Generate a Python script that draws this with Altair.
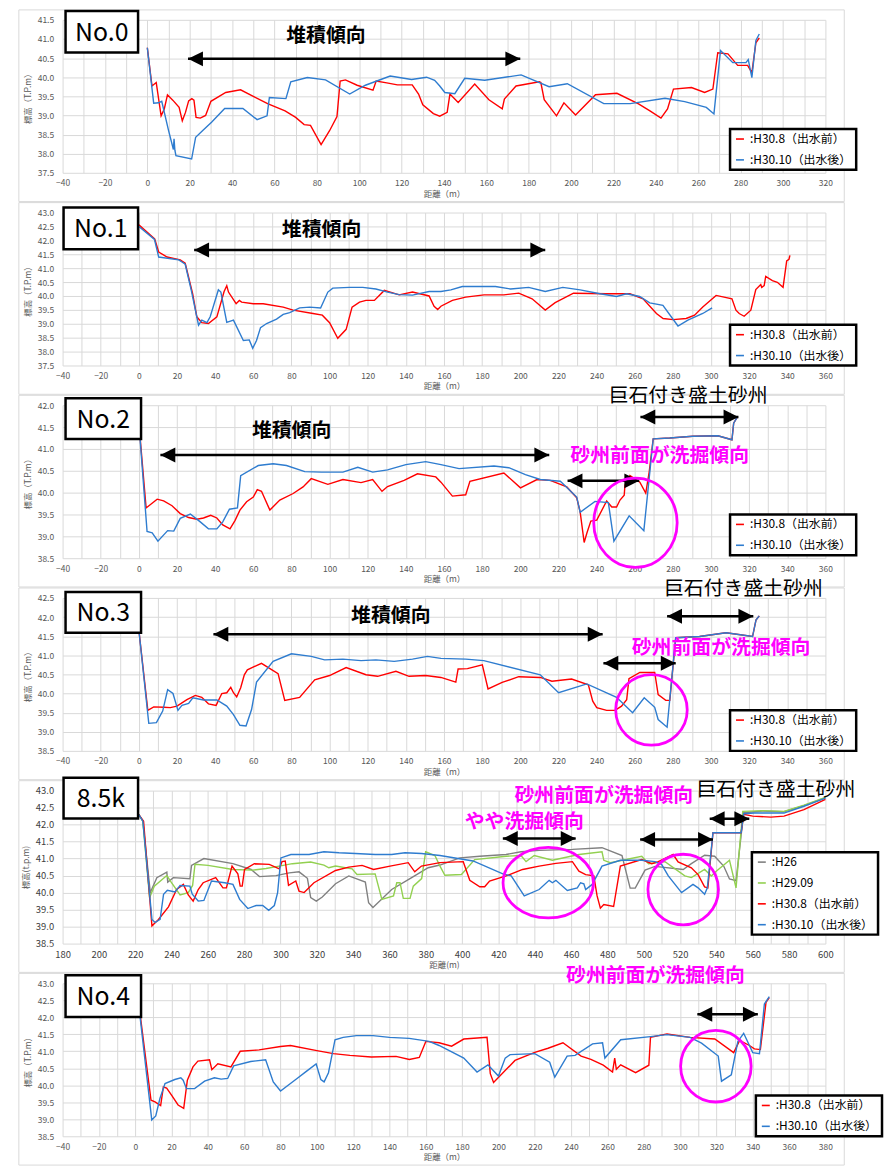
import altair as alt
import pandas as pd

FONT = "Noto Sans CJK JP"
RED = "#FF0000"
BLUE = "#2E7CCF"
GREEN = "#92D050"
GRAY = "#808080"
MAGENTA = "#FF00FF"
BLACK = "#000000"

LBL_H26 = ":H26"
LBL_H2909 = ":H29.09"
LBL_H308 = ":H30.8（出水前）"
LBL_H3010 = ":H30.10（出水後）"

PANEL_NAMES = ["No.0", "No.1", "No.2", "No.3", "8.5k", "No.4"]

# ---------------- No.0 ----------------
P0_H308 = [(0, 40.77), (2.2, 39.77), (4.2, 39.86), (6.5, 38.99), (8, 39.17), (9.5, 39.54), (12, 39.4), (15, 39.21),
           (16.5, 38.86), (18, 39.08), (19.5, 39.38), (21, 39.44), (22, 39.4), (23, 38.95), (25, 38.93), (27.5, 39.0),
           (30, 39.37), (37, 39.6), (44, 39.67), (50, 39.5), (57, 39.3), (65, 39.12), (70, 38.95), (74, 38.76),
           (77, 38.74), (82, 38.24), (86, 38.6), (89.5, 38.97), (91, 39.9), (93.5, 39.93), (99, 39.79), (106.5, 39.66),
           (108, 39.9), (113, 39.85), (118, 39.8), (125, 39.8), (128, 39.56), (130, 39.28), (135, 39.05), (138, 38.98),
           (141.5, 39.08), (142.8, 39.56), (146.7, 39.34), (154.5, 39.82), (161.2, 39.41), (167.5, 39.17),
           (168.5, 39.43), (174, 39.77), (185, 39.88), (185.7, 39.86), (187.3, 39.41), (193.1, 38.99), (196.6, 39.33),
           (202.1, 39.01), (211.5, 39.54), (221.6, 39.58), (231.8, 39.3), (237.2, 39.12), (242.4, 38.93),
           (245.5, 39.17), (248.3, 39.69), (256.8, 39.73), (263, 39.6), (266.9, 39.69), (269.2, 40.64), (274, 40.61),
           (278.6, 40.31), (283.3, 40.31), (285.3, 40.12), (287.2, 40.9), (288.8, 41.03)]
P0_H3010 = [(0, 40.77), (3, 39.32), (5.3, 39.33), (6.8, 39.37), (10, 38.61), (12.3, 38.11), (12.6, 38.39), (13, 38.09),
            (13.5, 37.95), (20.9, 37.86), (22.8, 38.43), (26.4, 38.62), (30.3, 38.82), (36.5, 39.18), (45.1, 39.18),
            (51.8, 38.89), (56.5, 38.99), (57.6, 39.47), (65.4, 39.44), (67.7, 39.88), (75.5, 39.99), (84.1, 39.93),
            (95.5, 39.56), (102.9, 39.79), (114.6, 40.03), (124.7, 39.94), (131.8, 40.0), (135.6, 39.92), (138, 39.77),
            (140.4, 39.6), (145.1, 39.57), (149.8, 39.97), (159.2, 39.92), (176.4, 40.06), (189.6, 39.75),
            (198.2, 39.83), (215.4, 39.31), (227.9, 39.31), (244.3, 39.45), (253.6, 39.36), (263.8, 39.21),
            (267.4, 39.04), (270.5, 40.7), (276.3, 40.38), (282.5, 40.38), (283.6, 40.46), (285.3, 39.99),
            (287.2, 40.96), (288.8, 41.13)]

# ---------------- No.1 ----------------
P1_H308 = [(0, 42.56), (8.3, 42.05), (10.4, 41.58), (14.8, 41.4), (21.7, 41.3), (24.3, 41.18), (28.2, 40.08),
           (30.4, 39.25), (33, 39.04), (36.5, 39.01), (40.9, 39.25), (44.7, 40.16), (46.1, 40.37), (47, 40.14),
           (51, 39.72), (52.7, 39.84), (53.9, 39.78), (60, 39.72), (65.2, 39.72), (75.7, 39.6), (80.9, 39.49),
           (91.3, 39.37), (96.2, 39.31), (100, 39.04), (104.3, 38.48), (108.7, 38.8), (111.8, 39.6), (115.7, 39.78),
           (119.1, 39.84), (123.5, 39.84), (128.7, 40.2), (136.5, 40.04), (143.5, 40.14), (152.2, 40.0),
           (154.8, 39.63), (156.7, 39.51), (158.4, 39.63), (164.4, 39.84), (171.4, 39.96), (181, 40.04),
           (191.4, 40.04), (199.2, 40.1), (206.2, 39.9), (213.1, 39.49), (218.3, 39.76), (227.9, 40.1),
           (245.3, 40.08), (257.5, 40.08), (264.4, 39.9), (271.4, 39.37), (274.9, 39.19), (280.1, 39.15),
           (287, 39.19), (291.4, 39.31), (295.7, 39.6), (302.7, 40.02), (311, 39.9), (313.1, 39.49), (314.8, 39.37),
           (317.4, 39.27), (320.9, 39.49), (323.5, 40.23), (326.1, 40.41), (326.6, 40.31), (327.9, 40.37),
           (328.7, 40.7), (332.2, 40.55), (334.8, 40.49), (337.8, 40.31), (339.7, 41.26), (340.9, 41.32),
           (341.4, 41.46)]
P1_H3010 = [(0, 42.5), (8.2, 42.03), (10.4, 41.4), (20.9, 41.3), (22.6, 41.22), (24.3, 41.14), (27.5, 40.2),
            (31.3, 38.95), (33, 39.13), (35.7, 39.04), (37.4, 39.25), (41.7, 40.22), (43, 40.14), (46.1, 39.05),
            (49.6, 39.13), (54.8, 38.4), (57.9, 38.42), (59.7, 38.12), (61.7, 38.4), (63.8, 38.86), (67, 39.01),
            (72.2, 39.17), (75.7, 39.34), (79.1, 39.4), (84.3, 39.57), (89.6, 39.6), (95.3, 39.57), (99.1, 40.14),
            (101.7, 40.28), (110.4, 40.31), (117.4, 40.31), (124.3, 40.25), (130.4, 40.14), (136.5, 40.05),
            (143.5, 40.03), (152.2, 40.16), (158.4, 40.16), (163.6, 40.22), (169.6, 40.34), (187, 40.34),
            (194.9, 40.25), (204.4, 40.31), (213.1, 40.16), (222.3, 40.31), (231.4, 40.22), (241.8, 40.08),
            (250.5, 39.98), (255.7, 40.08), (262.6, 39.98), (267.9, 39.75), (274.8, 39.66), (282.7, 38.92),
            (287.9, 39.13), (295.7, 39.37), (300.6, 39.57)]

# ---------------- No.2 ----------------
P2_H308 = [(0, 41.6), (3.8, 39.65), (9.6, 39.85), (13, 39.81), (17.4, 39.7), (21.7, 39.52), (26.1, 39.43),
           (30.4, 39.39), (33.9, 39.42), (37.7, 39.48), (40.9, 39.42), (44, 39.26), (47.8, 39.17), (50.4, 39.36),
           (53, 39.6), (56.5, 39.79), (60, 39.9), (62.1, 40.07), (64.3, 40.03), (68.7, 39.6), (73.9, 39.83),
           (80.9, 39.98), (86.1, 40.13), (90.4, 40.32), (99.1, 40.19), (107, 40.3), (116.5, 40.23), (122.6, 40.3),
           (127.5, 40.03), (130.4, 40.14), (139.1, 40.28), (146.1, 40.43), (155.7, 40.36), (158.4, 40.24),
           (164.4, 39.92), (171.4, 39.95), (173.6, 40.26), (191.4, 40.45), (200.1, 40.11), (208.8, 40.3),
           (215.7, 40.28), (224.4, 40.13), (229.6, 39.88), (231.4, 39.56), (233.5, 38.86), (234.9, 39.07),
           (237, 39.35), (240.1, 39.37), (245.3, 39.81), (248, 39.67), (250.5, 39.67), (252.3, 39.83),
           (254.5, 39.94), (254.9, 40.17), (257.5, 40.39), (262.7, 40.24), (265.8, 39.99), (267.6, 40.47),
           (269.7, 41.23), (278.4, 41.25), (290.5, 41.29), (303.6, 41.3), (311, 41.21), (311.9, 41.59),
           (313.7, 41.72)]
P2_H3010 = [(0, 41.6), (4.3, 39.11), (7, 39.08), (10, 38.89), (15.1, 39.13), (18.3, 39.12), (21.7, 39.41),
            (27, 39.51), (32.2, 39.33), (36.5, 39.17), (40.9, 39.17), (44, 39.33), (47.5, 39.62), (51.7, 39.65),
            (53.4, 40.39), (62.6, 40.62), (70.4, 40.66), (77.4, 40.62), (87, 40.48), (95.7, 40.47), (107, 40.47),
            (114.8, 40.58), (122.6, 40.47), (130.4, 40.52), (140, 40.64), (150.4, 40.71), (158.4, 40.64),
            (167.9, 40.55), (186.2, 40.61), (194, 40.57), (202.7, 40.41), (210.5, 40.3), (221, 40.26),
            (229.6, 39.9), (231.4, 39.55), (239.2, 39.8), (246.2, 39.77), (249.1, 38.89), (257.1, 39.47),
            (264.8, 39.13), (269.7, 41.23), (278.4, 41.25), (290.5, 41.29), (303.6, 41.3), (311, 41.21),
            (311.9, 41.59), (313.7, 41.72)]

# ---------------- No.3 ----------------
P3_H308 = [(0, 41.66), (4.7, 39.56), (7.8, 39.65), (13, 39.64), (16.5, 39.63), (20, 39.67), (25.2, 39.84),
           (29.6, 39.95), (33, 39.9), (36.5, 39.73), (40.5, 39.69), (43.5, 40.0), (46.1, 40.02), (48.2, 40.16),
           (49.6, 40.02), (51.3, 39.91), (53.4, 40.15), (55.3, 40.49), (56.9, 40.62), (64.3, 40.79), (73, 40.52),
           (76.5, 39.82), (84.3, 39.9), (92.2, 40.36), (100, 40.47), (108.7, 40.68), (119.1, 40.49), (125.2, 40.45),
           (134.8, 40.58), (141.7, 40.45), (150.4, 40.47), (158.4, 40.42), (166.2, 40.3), (167.4, 40.64),
           (172.3, 40.65), (180.1, 40.75), (183.1, 40.12), (190.5, 40.29), (199.2, 40.44), (210.5, 40.42),
           (216.6, 40.32), (226.9, 40.38), (235.7, 40.23), (238, 39.8), (240.1, 39.63), (245.3, 39.56),
           (249.7, 39.56), (253.1, 39.67), (255.8, 39.84), (257, 40.39), (262.7, 40.55), (270.5, 40.55),
           (272.3, 39.97), (276.3, 39.82), (278.4, 39.82), (281.5, 41.46), (294, 41.49), (307.9, 41.59),
           (321.8, 41.49), (323.6, 41.92), (325.3, 42.03)]
P3_H3010 = [(0, 41.66), (5.2, 39.22), (9.2, 39.24), (12.5, 39.54), (15.1, 40.1), (17.9, 40.0), (20.5, 39.56),
            (22.6, 39.69), (26.1, 39.74), (28.3, 39.89), (33.9, 39.83), (40.9, 39.83), (46.1, 39.67), (49.6, 39.45),
            (53, 39.17), (56.2, 39.15), (59.1, 39.58), (61.7, 40.3), (70.4, 40.84), (80, 41.04), (90.4, 40.97),
            (97.4, 40.88), (107, 40.9), (116.5, 40.86), (124.3, 40.88), (133.9, 40.84), (143.5, 40.9),
            (151.3, 40.97), (158.4, 40.92), (171.4, 40.9), (180.9, 40.86), (210.5, 40.49), (220.1, 40.02),
            (234.9, 40.25), (250.5, 39.9), (258.9, 39.5), (265, 39.89), (270.5, 39.64), (272.3, 39.32),
            (277, 39.12), (281.5, 41.46), (294, 41.49), (307.9, 41.59), (321.8, 41.49), (323.6, 41.92),
            (325.3, 42.03)]

# ---------------- 8.5k ----------------
P4_H26 = [(221.9, 42.3), (224.2, 42.1), (228.3, 40.0), (231.9, 40.44), (237.4, 40.6), (237.9, 40.31), (241, 40.44),
          (250.1, 40.41), (251, 40.8), (257.8, 41.0), (273.8, 40.85), (283.8, 40.68), (288.4, 40.47), (297.5, 40.5),
          (304.8, 40.58), (310.2, 40.61), (314.8, 40.42), (316.6, 39.85), (319.7, 39.75), (323, 39.87),
          (330.3, 40.26), (337.6, 40.49), (346.7, 40.31), (348.5, 39.7), (350.9, 39.56), (361.2, 40.09),
          (372.2, 40.44), (381.3, 40.73), (387.8, 40.81), (398.7, 41.02), (409.7, 41.07), (424.2, 41.12),
          (432.4, 41.2), (442.4, 41.24), (460.7, 41.27), (477, 41.32), (488, 41.09), (492.5, 40.13),
          (495.3, 40.13), (500.7, 40.66), (506.2, 40.77), (521.7, 40.68), (526.2, 40.85), (533.5, 41.1),
          (539, 41.07), (544, 40.78), (547.2, 40.4), (550.8, 40.35), (555, 42.35), (565.4, 42.4), (577.2, 42.38),
          (588.2, 42.56), (600, 42.79)]
P4_H2909 = [(221.9, 42.3), (224.2, 42.1), (227.9, 39.85), (230.5, 40.19), (237.4, 40.5), (239.5, 40.33),
            (244.7, 39.93), (249.2, 40.0), (251.6, 40.21), (252.9, 40.83), (260.1, 40.8), (273.8, 40.68),
            (284.7, 40.66), (292, 40.71), (299.3, 40.78), (306.5, 40.85), (316.6, 40.9), (323.9, 40.81),
            (326.6, 40.73), (330.3, 40.78), (339.4, 40.7), (342.1, 40.53), (352.1, 40.55), (355.8, 39.8),
            (362.2, 39.9), (364, 40.29), (365.8, 40.29), (367.6, 39.83), (371.3, 39.83), (373.1, 40.19),
            (377.7, 40.41), (379.9, 41.2), (385, 41.09), (387.8, 40.78), (390.5, 40.51), (399.6, 40.53),
            (406.9, 40.97), (424.2, 41.07), (432.4, 41.09), (435.2, 40.91), (439.7, 41.09), (449.7, 40.95),
            (464.3, 41.12), (477, 41.2), (478, 40.95), (481.6, 40.88), (498.9, 41.07), (502.6, 40.85),
            (511.7, 40.91), (522.6, 40.49), (526.2, 40.44), (533.5, 40.68), (537.2, 40.49), (539.9, 40.63),
            (547.2, 40.95), (550.8, 40.14), (554.5, 42.39), (565.4, 42.41), (577.2, 42.39), (588.2, 42.57),
            (600, 42.8)]
P4_H308 = [(221.9, 42.3), (224.6, 42.1), (229.2, 39.02), (232.8, 39.21), (238.3, 39.58), (242.8, 40.09),
           (246.5, 40.24), (249.2, 39.93), (251.9, 39.75), (254.7, 40.09), (257.4, 40.29), (264.3, 40.44),
           (268.3, 40.14), (270.2, 40.14), (273.3, 40.78), (276.5, 40.55), (277.8, 40.19), (278.9, 40.19),
           (280.2, 40.68), (285.6, 40.85), (293.8, 40.83), (299.3, 40.7), (300.8, 40.91), (302.6, 40.93),
           (304.4, 40.21), (308.4, 40.34), (310.2, 40.04), (313, 40.0), (318.4, 40.29), (330.3, 40.65),
           (337.6, 40.75), (344.9, 40.8), (351.2, 40.68), (360.3, 40.78), (370.3, 40.88), (373.9, 40.61),
           (377.6, 40.78), (387.8, 40.88), (400.6, 40.91), (404.2, 40.36), (409.7, 40.17), (412.4, 40.17),
           (415.1, 40.34), (424.2, 40.49), (433.3, 40.68), (442.4, 40.78), (451.6, 40.86), (460.7, 40.91),
           (464.3, 40.63), (468, 40.53), (472.5, 40.49), (474.3, 39.9), (476.1, 39.54), (478, 39.65),
           (483.4, 39.59), (487.1, 40.78), (498.9, 40.97), (504.4, 40.85), (508, 40.91), (516.2, 41.12),
           (518.9, 40.9), (526.2, 40.73), (529.9, 40.53), (533.5, 40.17), (535.3, 40.14), (538.1, 41.76),
           (553.6, 41.76), (555, 42.3), (560, 42.25), (570, 42.22), (577.2, 42.25), (588.2, 42.44), (600, 42.74)]
P4_H3010 = [(221.9, 42.3), (224.2, 42.1), (229.2, 39.21), (231, 39.12), (233.7, 39.21), (235.6, 39.95),
            (237.7, 40.07), (241.9, 40.02), (244.7, 40.21), (250.1, 40.19), (251.4, 39.95), (254.7, 39.75),
            (257.8, 39.77), (262, 40.34), (269.3, 40.29), (273.8, 40.24), (277.5, 39.8), (282, 39.53),
            (286.6, 39.62), (290.2, 39.62), (293.5, 39.48), (296.6, 39.62), (298.4, 40.0), (300.2, 41.02),
            (305.7, 41.12), (315.7, 41.12), (323.9, 41.2), (332.2, 41.17), (341.2, 41.15), (352.1, 41.12),
            (361.2, 41.12), (368.5, 41.17), (377.6, 41.15), (387.8, 41.09), (406, 40.93), (422.4, 40.55),
            (427, 40.49), (434.2, 39.9), (442.4, 40.09), (447.9, 40.36), (449.7, 40.29), (451.6, 40.36),
            (457.9, 40.06), (463.4, 40.14), (465.2, 40.29), (467, 40.26), (468, 40.09), (471.6, 40.24),
            (477, 40.78), (487.1, 40.95), (498.9, 40.95), (506.2, 40.91), (509.8, 40.83), (513.5, 40.49),
            (520.8, 40.0), (527.1, 40.24), (529.9, 40.14), (533.5, 39.95), (535, 40.14), (538.1, 41.76),
            (553.6, 41.76), (555, 42.32), (560.8, 42.34), (577.2, 42.34), (588.2, 42.54), (600, 42.78)]

# ---------------- No.4 ----------------
P5_H308 = [(1, 42.8), (8.7, 39.56), (10.9, 39.51), (14, 39.4), (15.5, 39.95), (17.3, 39.92), (20, 39.71),
           (23.6, 39.42), (26.7, 39.32), (28.7, 40.15), (31.8, 40.54), (34.5, 40.71), (40.9, 40.75), (42.2, 40.46),
           (45.5, 40.63), (52.7, 40.54), (57.8, 41.0), (68.2, 41.04), (80, 41.14), (85.5, 41.17), (100, 41.02),
           (109.1, 40.93), (118.2, 40.88), (130, 40.83), (143.6, 40.85), (150.9, 40.76), (156.4, 40.82),
           (160, 41.29), (167.3, 41.25), (174.2, 41.15), (180.9, 41.36), (193.7, 41.41), (195.5, 40.34),
           (197.3, 40.08), (209.1, 40.73), (220, 40.97), (227.3, 41.09), (235.5, 41.25), (245.5, 40.86),
           (250.9, 40.76), (257.7, 40.59), (262.8, 40.39), (264, 40.8), (264.9, 40.47), (267.3, 40.6),
           (275.5, 40.37), (282.8, 40.59), (283.7, 41.41), (292.8, 41.51), (305.5, 41.41), (319.1, 41.36),
           (329.5, 40.96), (332.8, 41.32), (338.2, 41.17), (340.9, 41.07), (344.2, 41.05), (347.3, 42.44),
           (349.1, 42.58)]
P5_H3010 = [(1, 42.8), (9.1, 38.98), (11.3, 39.1), (13.6, 39.61), (16.4, 40.05), (21.8, 40.17), (25.1, 40.22),
            (26.4, 40.15), (28.2, 39.9), (32.7, 39.9), (38.2, 40.12), (43.6, 40.22), (47.3, 40.18), (50.9, 40.2),
            (54.2, 40.57), (63.6, 40.7), (71.8, 40.75), (76, 40.1), (80, 39.83), (89.1, 40.2), (94.2, 40.41),
            (99.6, 40.63), (102.2, 40.17), (104, 40.1), (106.4, 40.37), (110, 41.34), (114.5, 41.41),
            (121.8, 41.46), (130.9, 41.46), (140, 41.41), (150.9, 41.38), (161.8, 41.29), (167.3, 41.17),
            (180.9, 40.8), (188.2, 40.39), (194.2, 40.6), (200, 40.27), (203.7, 40.8), (206.4, 40.9), (220, 40.93),
            (228.2, 40.68), (231, 40.24), (237.8, 40.86), (242.2, 40.88), (251.8, 41.22), (257.3, 41.25),
            (258.6, 40.8), (267.3, 41.34), (283.7, 41.43), (292.8, 41.49), (305.5, 41.41), (311.8, 41.24),
            (321, 40.86), (322.8, 40.12), (328.2, 40.31), (331.8, 41.29), (335, 41.53), (340, 40.96),
            (343.7, 40.93), (346.4, 42.39), (349.1, 42.61)]

# annotations (data units): arrows (x1, x2, y); texts (text, x, y, kind); circles (x, y)
TXT_DEP = "堆積傾向"
TXT_BAR = "巨石付き盛土砂州"
TXT_SCOUR = "砂州前面が洗掘傾向"
TXT_SLIGHT = "やや洗掘傾向"

P0_ARROWS = [(19.2, 176, 40.48)]
P0_TEXTS = [(TXT_DEP, 84.3, 41.07, "dep")]
P1_ARROWS = [(29, 213.1, 41.65)]
P1_TEXTS = [(TXT_DEP, 95.8, 42.36, "dep")]
P2_ARROWS = [(11.3, 215.2, 40.86), (263.0, 314.4, 41.73), (224.8, 262.4, 40.27)]
P2_TEXTS = [(TXT_DEP, 80.1, 41.4, "dep"), (TXT_BAR, 288, 42.22, "bar"), (TXT_SCOUR, 273.1, 40.83, "scour")]
P2_CIRCLES = [(260.4, 39.31)]
P3_ARROWS = [(39.1, 243.2, 41.55), (277, 322.2, 42.02), (243.6, 281.5, 40.79)]
P3_TEXTS = [(TXT_DEP, 132.1, 42.03, "dep"), (TXT_BAR, 317, 42.74, "bar"), (TXT_SCOUR, 305.3, 41.18, "scour")]
P3_CIRCLES = [(268.8, 39.57)]
P4_ARROWS = [(422.4, 462.5, 41.59), (498, 538.1, 41.56), (536.3, 558.1, 42.17)]
P4_TEXTS = [(TXT_SCOUR, 478, 42.85, "scour"), (TXT_SLIGHT, 434.2, 42.07, "scour"), (TXT_BAR, 572.7, 43.03, "bar")]
P4_CIRCLES = [(447.4, 40.29), (521.7, 40.09)]
P5_ARROWS = [(309.5, 342.8, 42.09)]
P5_TEXTS = [(TXT_SCOUR, 286.4, 43.21, "scour")]
P5_CIRCLES = [(319.7, 40.56)]

# ---------------- styling / layout (pixels) ----------------
PLOT_W, PLOT_H = 768, 154
TEXT_STYLE = {"dep": (BLACK, 20, "bold"), "bar": (BLACK, 20, "normal"), "scour": (MAGENTA, 20, "bold")}
CIRCLE_WH = {2: [(84, 90)], 3: [(72, 71)], 4: [(91, 71), (71, 71)], 5: [(71, 72)]}
BOX_PX = [(3, -9, 76, 33), (1, -5, 76, 37), (3, -7, 79, 34), (3, -6, 79, 35), (1, -13, 76, 28), (3, -8, 79, 34)]
LEGEND_PX = [(672, 110), (672, 113), (672, 110), (672, 113), (694, 62), (698, 113)]

HEAD_L = "M0,0L1.5,-0.75L1.5,0.75Z"
HEAD_R = "M0,0L-1.5,-0.75L-1.5,0.75Z"


def ellipse_path(e):
    k = 0.5523
    return (f"M1,0C1,{k*e:.3f},{k:.3f},{e:.3f},0,{e:.3f}C{-k:.3f},{e:.3f},-1,{k*e:.3f},-1,0"
            f"C-1,{-k*e:.3f},{-k:.3f},{-e:.3f},0,{-e:.3f}C{k:.3f},{-e:.3f},1,{-k*e:.3f},1,0Z")


def build_panel(idx, xdom, ydom, ytitle, xtitle, series, arrows, texts, circles, dark=False):
    xs = alt.Scale(domain=list(xdom), nice=False, zero=False)
    ys = alt.Scale(domain=list(ydom), nice=False, zero=False)
    xgrid = list(range(xdom[0], xdom[1] + 1, 10))
    ygrid = [round(ydom[0] + 0.5 * k, 1) for k in range(int(round((ydom[1] - ydom[0]) / 0.5)) + 1)]
    lab_col = "#404040" if dark else "#595959"
    lab_size = 9.5 if dark else 8.5
    xaxis = alt.Axis(values=xgrid, labelExpr="datum.value % 20 == 0 ? datum.label : ''", title=xtitle,
                     grid=True, labelFlush=False, labelOverlap=False, labelPadding=6, titlePadding=2,
                     labelColor=lab_col, labelFontSize=lab_size)
    yaxis = alt.Axis(values=ygrid, format=".1f", title=ytitle, grid=True, labelOverlap=False,
                     labelFlush=False, labelPadding=9, titlePadding=5, labelColor=lab_col, labelFontSize=lab_size)

    def X(f):
        return alt.X(f, type="quantitative", scale=xs, axis=xaxis)

    def Y(f):
        return alt.Y(f, type="quantitative", scale=ys, axis=yaxis)

    one = pd.DataFrame({"k": [0]})
    layers = []
    layers.append(alt.Chart(one).mark_rect(fillOpacity=0, stroke="#D9D9D9", strokeWidth=1).encode(
        x=alt.value(-44), x2=alt.value(787), y=alt.value(-10), y2=alt.value(183)))

    labels = [s[0] for s in series]
    colors = [s[1] for s in series]
    cscale = alt.Scale(domain=labels, range=colors)
    lx, ly = LEGEND_PX[idx]
    legend = alt.Legend(orient="none", legendX=lx, legendY=ly, title=None, symbolType="stroke",
                        symbolSize=64, symbolStrokeWidth=1.6, labelFont=FONT, labelFontSize=12,
                        labelColor="black", labelOffset=4, rowPadding=9, padding=4,
                        fillColor="white", strokeColor="black")
    for lbl, col, pts in series:
        df = pd.DataFrame({"x": [a for a, b in pts], "y": [b for a, b in pts],
                           "i": list(range(len(pts))), "series": lbl})
        layers.append(alt.Chart(df).mark_line(strokeWidth=1.4).encode(
            x=X("x"), y=Y("y"), order=alt.Order("i:Q"),
            color=alt.Color("series:N", scale=cscale, legend=legend)))

    if arrows:
        adf = pd.DataFrame(arrows, columns=["x1", "x2", "y"])
        layers.append(alt.Chart(adf).mark_rule(strokeWidth=2.5, color="black").encode(
            x=X("x1"), x2=alt.X2("x2"), y=Y("y")))
        layers.append(alt.Chart(adf).mark_point(shape=HEAD_L, size=400, filled=True, color="black",
                                                opacity=1).encode(x=X("x1"), y=Y("y")))
        layers.append(alt.Chart(adf).mark_point(shape=HEAD_R, size=400, filled=True, color="black",
                                                opacity=1).encode(x=X("x2"), y=Y("y")))

    for j, (cx, cy) in enumerate(circles):
        w, h = CIRCLE_WH[idx][j]
        cdf = pd.DataFrame({"x": [cx], "y": [cy]})
        layers.append(alt.Chart(cdf).mark_point(shape=ellipse_path(h / w), size=w * w, filled=False,
                                                stroke=MAGENTA, strokeWidth=2.8, opacity=1).encode(
            x=X("x"), y=Y("y")))

    for t, tx, ty, kind in texts:
        col, size, weight = TEXT_STYLE[kind]
        tdf = pd.DataFrame({"x": [tx], "y": [ty], "t": [t]})
        layers.append(alt.Chart(tdf).mark_text(font=FONT, fontSize=size, fontWeight=weight, color=col,
                                               align="center", baseline="middle").encode(
            x=X("x"), y=Y("y"), text="t:N"))

    bx0, by0, bx1, by1 = BOX_PX[idx]
    layers.append(alt.Chart(one).mark_rect(fill="white", stroke="black", strokeWidth=2.5).encode(
        x=alt.value(bx0), x2=alt.value(bx1), y=alt.value(by0), y2=alt.value(by1)))
    layers.append(alt.Chart(one).mark_text(text=PANEL_NAMES[idx], font=FONT, fontSize=25, color="black",
                                           align="center", baseline="middle").encode(
        x=alt.value((bx0 + bx1) / 2), y=alt.value((by0 + by1) / 2 + 1)))

    return alt.layer(*layers).properties(width=PLOT_W, height=PLOT_H)


YT = "標高（T.P.m）"
XT = "距離（m）"
two = lambda a, b: [(LBL_H308, RED, a), (LBL_H3010, BLUE, b)]

panels = [
    build_panel(0, (-40, 320), (37.5, 41.5), YT, XT, two(P0_H308, P0_H3010), P0_ARROWS, P0_TEXTS, []),
    build_panel(1, (-40, 360), (37.5, 43.0), YT, XT, two(P1_H308, P1_H3010), P1_ARROWS, P1_TEXTS, []),
    build_panel(2, (-40, 360), (38.5, 42.0), YT, XT, two(P2_H308, P2_H3010), P2_ARROWS, P2_TEXTS, P2_CIRCLES),
    build_panel(3, (-40, 360), (38.5, 42.5), YT, XT, two(P3_H308, P3_H3010), P3_ARROWS, P3_TEXTS, P3_CIRCLES),
    build_panel(4, (180, 600), (38.5, 43.0), "標高(t.p.m)", "距離(m)",
                [(LBL_H26, GRAY, P4_H26), (LBL_H2909, GREEN, P4_H2909), (LBL_H308, RED, P4_H308),
                 (LBL_H3010, BLUE, P4_H3010)], P4_ARROWS, P4_TEXTS, P4_CIRCLES, dark=True),
    build_panel(5, (-40, 380), (38.5, 43.0), YT, XT, two(P5_H308, P5_H3010), P5_ARROWS, P5_TEXTS, P5_CIRCLES),
]

chart = alt.vconcat(*panels, spacing=40, bounds="flush").resolve_scale(
    x="independent", y="independent", color="independent"
).resolve_legend(color="independent").properties(
    padding={"left": 18, "top": 5, "right": 0, "bottom": 0}, background="white"
).configure_view(strokeWidth=0).configure_axis(
    labelFont=FONT, titleFont=FONT, titleFontSize=8.5, titleColor="#595959", titleFontWeight="normal",
    gridColor="#D9D9D9", gridWidth=1, domain=False, ticks=False
).configure_legend(strokeWidth=2.5)

chart.save("out.html", embed_options={"renderer": "svg", "actions": False})
